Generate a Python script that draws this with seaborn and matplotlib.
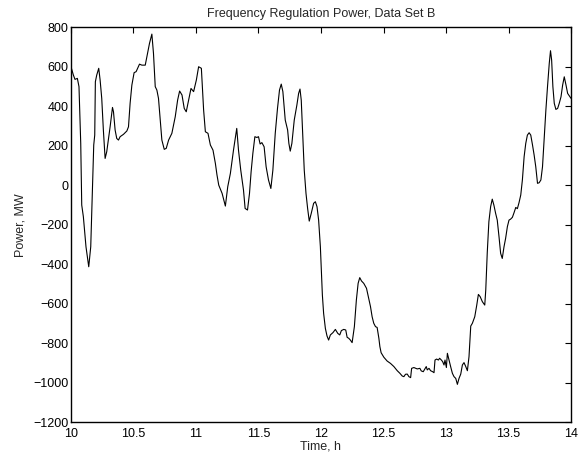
import matplotlib
matplotlib.use("Agg")
import matplotlib.pyplot as plt
import seaborn as sns
import pandas as pd

time_h = [
    10.0, 10.019, 10.032, 10.051, 10.064, 10.078, 10.086, 10.099, 10.12, 10.142,
    10.158, 10.168, 10.174, 10.182, 10.19, 10.195, 10.206, 10.222, 10.233, 10.246,
    10.259, 10.273, 10.286, 10.313, 10.332, 10.34, 10.353, 10.366, 10.38, 10.393,
    10.42, 10.447, 10.46, 10.473, 10.487, 10.505, 10.521, 10.548, 10.567, 10.594,
    10.612, 10.628, 10.647, 10.66, 10.674, 10.687, 10.7, 10.714, 10.727, 10.746,
    10.762, 10.781, 10.807, 10.834, 10.853, 10.869, 10.888, 10.906, 10.922, 10.941,
    10.96, 10.981, 11.003, 11.021, 11.043, 11.061, 11.075, 11.096, 11.115, 11.136,
    11.155, 11.168, 11.182, 11.209, 11.235, 11.254, 11.275, 11.3, 11.326, 11.34,
    11.358, 11.38, 11.393, 11.412, 11.428, 11.441, 11.455, 11.471, 11.487, 11.5,
    11.513, 11.527, 11.545, 11.561, 11.58, 11.599, 11.615, 11.634, 11.652, 11.668,
    11.682, 11.695, 11.714, 11.733, 11.743, 11.754, 11.767, 11.786, 11.807, 11.821,
    11.832, 11.842, 11.856, 11.866, 11.88, 11.893, 11.906, 11.922, 11.941, 11.955,
    11.968, 11.981, 11.995, 12.005, 12.011, 12.021, 12.035, 12.048, 12.061, 12.075,
    12.096, 12.115, 12.134, 12.15, 12.163, 12.182, 12.198, 12.209, 12.222, 12.235,
    12.249, 12.267, 12.283, 12.297, 12.31, 12.324, 12.342, 12.364, 12.382, 12.396,
    12.409, 12.422, 12.436, 12.449, 12.463, 12.471, 12.481, 12.503, 12.529, 12.556,
    12.583, 12.61, 12.631, 12.65, 12.663, 12.676, 12.69, 12.703, 12.717, 12.725,
    12.743, 12.77, 12.791, 12.802, 12.818, 12.829, 12.842, 12.85, 12.864, 12.877,
    12.893, 12.904, 12.912, 12.925, 12.939, 12.949, 12.963, 12.973, 12.984, 12.992,
    13.003, 13.011, 13.024, 13.037, 13.051, 13.064, 13.078, 13.091, 13.104, 13.118,
    13.131, 13.144, 13.158, 13.171, 13.184, 13.198, 13.211, 13.23, 13.246, 13.259,
    13.273, 13.291, 13.31, 13.318, 13.33, 13.343, 13.357, 13.37, 13.383, 13.397,
    13.41, 13.424, 13.437, 13.45, 13.464, 13.477, 13.491, 13.504, 13.517, 13.531,
    13.544, 13.558, 13.571, 13.584, 13.598, 13.611, 13.625, 13.638, 13.651, 13.665,
    13.678, 13.692, 13.705, 13.718, 13.732, 13.745, 13.759, 13.772, 13.786, 13.799,
    13.812, 13.826, 13.836, 13.845, 13.855, 13.866, 13.879, 13.893, 13.906, 13.92,
    13.933, 13.946, 13.96, 13.973, 13.987, 14.0,
]

power_mw = [
    600, 558, 536, 541, 499, 212, -100, -159, -311, -412,
    -311, -100, 10, 204, 254, 524, 558, 592, 533, 440,
    280, 136, 170, 296, 394, 372, 280, 237, 229, 246,
    258, 275, 296, 415, 507, 570, 575, 613, 608, 608,
    667, 718, 765, 667, 499, 482, 440, 330, 229, 182,
    187, 229, 263, 347, 431, 477, 457, 389, 372, 431,
    490, 474, 533, 600, 592, 381, 271, 263, 204, 178,
    111, 52, 1, -41, -105, -7, 60, 178, 288, 178,
    77, -24, -117, -125, -41, 69, 162, 246, 242, 246,
    209, 216, 195, 94, 27, -16, 77, 263, 389, 482,
    512, 474, 330, 280, 212, 173, 212, 330, 406, 465,
    487, 431, 229, 77, -41, -117, -181, -142, -91, -83,
    -108, -176, -311, -471, -555, -648, -724, -762, -783, -757,
    -745, -729, -749, -757, -735, -729, -732, -769, -774, -783,
    -796, -715, -580, -496, -467, -484, -496, -521, -572, -614,
    -665, -698, -715, -719, -774, -816, -847, -870, -889, -901,
    -917, -938, -951, -965, -968, -956, -955, -968, -973, -926,
    -922, -929, -926, -939, -943, -931, -917, -934, -926, -938,
    -943, -948, -884, -879, -884, -875, -884, -892, -909, -884,
    -922, -850, -884, -917, -951, -968, -977, -1007, -977, -955,
    -909, -897, -917, -938, -867, -712, -698, -665, -606, -552,
    -563, -589, -606, -530, -341, -184, -108, -70, -100, -142,
    -176, -260, -344, -370, -311, -268, -209, -176, -171, -162,
    -139, -112, -118, -88, -49, 27, 145, 212, 254, 266,
    254, 204, 153, 94, 10, 13, 27, 94, 246, 381,
    499, 617, 681, 634, 499, 415, 384, 389, 415, 448,
    507, 549, 507, 465, 452, 440,
]

x_ticks = [10, 10.5, 11, 11.5, 12, 12.5, 13, 13.5, 14]
x_tick_labels = ["10", "10.5", "11", "11.5", "12", "12.5", "13", "13.5", "14"]
y_ticks = [-1200, -1000, -800, -600, -400, -200, 0, 200, 400, 600, 800]
y_tick_labels = ["\u22121200", "\u22121000", "\u2212800", "\u2212600", "\u2212400",
                 "\u2212200", "0", "200", "400", "600", "800"]

sns.set_style("white")
plt.rcParams["font.family"] = ["Liberation Sans", "DejaVu Sans"]

df = pd.DataFrame({"Time": time_h, "Power": power_mw})

fig = plt.figure(figsize=(5.79, 4.57), dpi=100)
ax = fig.add_axes([0.1226, 0.0755, 0.8636, 0.865])
sns.lineplot(data=df, x="Time", y="Power", ax=ax, color="black", linewidth=0.8,
             sort=False, estimator=None)

ax.set_xlim(10, 14)
ax.set_ylim(-1200, 800)
ax.set_xticks(x_ticks)
ax.set_xticklabels(x_tick_labels)
ax.set_yticks(y_ticks)
ax.set_yticklabels(y_tick_labels)
ax.tick_params(direction="in", length=4, width=0.8, top=True, right=True,
               labelsize=9, colors="black")
ax.tick_params(axis="x", pad=4)
ax.tick_params(axis="y", pad=2)
for s in ax.spines.values():
    s.set_visible(True)
    s.set_color("black")
    s.set_linewidth(1.0)

ax.set_xlabel("Time, h", fontsize=9, labelpad=0)
ax.set_ylabel("Power, MW", fontsize=9, labelpad=5)
ax.set_title("Frequency Regulation Power, Data Set B", fontsize=9, pad=7)

fig.savefig("out.png", dpi=100, facecolor="white")
